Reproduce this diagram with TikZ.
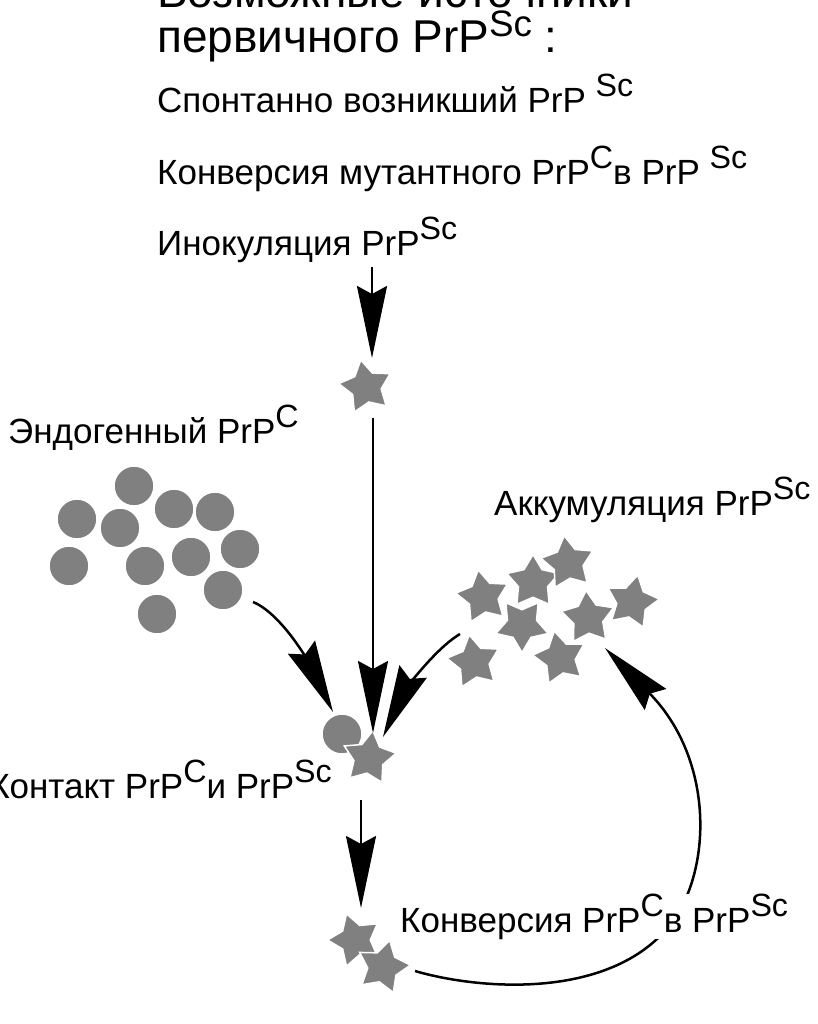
\documentclass[tikz,border=0pt]{standalone}
\usepackage{graphicx}
\usepackage{fontspec}
\setmainfont{Liberation Sans}
\usetikzlibrary{shapes.geometric,arrows.meta}
\definecolor{prgray}{gray}{0.5}
\newcommand{\idx}[2][0.92]{\raisebox{16pt}{\scalebox{#1}{#2}}}

\begin{document}
\begin{tikzpicture}[x=1pt, y=-1pt,
	txt/.style = {inner sep=0pt, anchor=base west, font=\fontsize{35}{42}\selectfont},
	ttl/.style = {inner sep=0pt, anchor=base west, font=\fontsize{46}{55}\selectfont},
	pc/.style = {circle, fill=prgray, draw=white, line width=1.5pt, minimum size=40pt, inner sep=0pt},
	psc/.style = {star, star points=5, star point ratio=1.8, fill=prgray, draw=white, line width=1.5pt, minimum size=55pt, inner sep=0pt},
	arr/.style = {line width=2.5pt, -{Stealth[length=72pt, width=30pt, inset=8pt]}}]
	\useasboundingbox (0,0) rectangle (818,1024);
	\node[ttl] (t1) at (157,8) {Возможные источники};
	\node[ttl] (t2) at (157,53) {первичного PrP\idx[0.8]{Sc} :};
	\node[txt] (l1) at (157,113) {Спонтанно возникший PrP \idx{Sc}};
	\node[txt] (l2) at (157,185) {Конверсия мутантного PrP\idx{C}в PrP \idx{Sc}};
	\node[txt] (l3) at (157,255) {Инокуляция PrP\idx{Sc}};
	\node[txt] (endo) at (8,443) {Эндогенный PrP\idx{C}};
	\node[txt] (acc) at (494,515) {Аккумуляция PrP\idx{Sc}};
	\node[txt, anchor=base east] (cont) at (332,798) {Контакт PrP\idx{C}и PrP\idx{Sc}};

	\node[psc, rotate=11] (s0) at (366,387) {};

	\node[pc] (c1) at (134,486) {};
	\node[pc] (c2) at (77,519) {};
	\node[pc] (c3) at (174,509) {};
	\node[pc] (c4) at (215,512) {};
	\node[pc] (c5) at (120,528) {};
	\node[pc] (c6) at (69,566) {};
	\node[pc] (c7) at (145,566) {};
	\node[pc] (c8) at (191,557) {};
	\node[pc] (c9) at (240,549) {};
	\node[pc] (c10) at (223,590) {};
	\node[pc] (c11) at (157,614) {};

	\node[psc, rotate=10] (a1) at (483,597) {};
	\node[psc] (a2) at (533,582) {};
	\node[psc, rotate=8] (a3) at (568,563) {};
	\node[psc, rotate=36] (a4) at (522,625) {};
	\node[psc, rotate=4] (a5) at (588,618) {};
	\node[psc, rotate=-12] (a6) at (632,602) {};
	\node[psc, rotate=10] (a7) at (474,662) {};
	\node[psc, rotate=12] (a8) at (560,658) {};

	\node[pc] (k1) at (342,734) {};
	\node[psc, rotate=-8] (k2) at (369,758) {};

	\node[psc, rotate=18] (b1) at (355,940) {};
	\node[psc, rotate=-14] (b2) at (383,967) {};

	\coordinate (i0) at (372,267);
	\coordinate (i1) at (372,358);
	\coordinate (m0) at (373,418);
	\coordinate (m1) at (373,733);
	\coordinate (e0) at (253,602);
	\coordinate (e1) at (333,712);
	\coordinate (u0) at (460,634);
	\coordinate (u1) at (383,737);
	\coordinate (d0) at (361,800);
	\coordinate (d1) at (361,908);
	\coordinate (r0) at (415,971);
	\coordinate (r1) at (670,925);
	\coordinate (r2) at (605,648);

	\draw[arr] (i0) -- (i1);
	\draw[arr] (m0) -- (m1);
	\draw[arr] (e0) .. controls (285,615) and (315,675) .. (e1);
	\draw[arr] (u0) .. controls (430,652) and (400,700) .. (u1);
	\draw[arr] (d0) -- (d1);
	\draw[arr] (r0) .. controls (480,990) and (610,1000) .. (r1) .. controls (712,872) and (715,760) .. (r2);

	\node[txt, fill=white] (conv) at (400,932) {Конверсия PrP\idx{C}в PrP\idx{Sc}};
\end{tikzpicture}
\end{document}
